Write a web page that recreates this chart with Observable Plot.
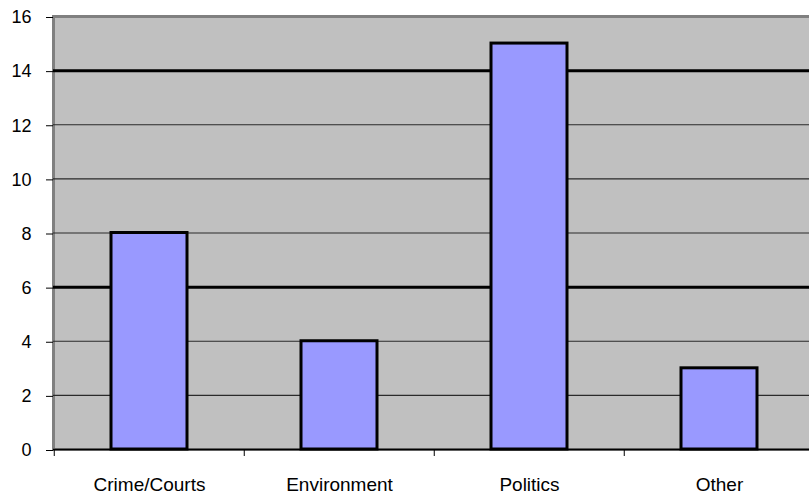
<!DOCTYPE html>
<html>
<head>
<meta charset="utf-8">
<script src="https://cdn.jsdelivr.net/npm/d3@7"></script>
<script src="https://cdn.jsdelivr.net/npm/@observablehq/plot@0.6"></script>
<style>
  html, body { margin: 0; padding: 0; background: #fff; overflow: hidden; }
  #chart svg { overflow: hidden; }
</style>
</head>
<body>
<div id="chart"></div>
<script>
const categories = ["Crime/Courts", "Environment", "Politics", "Other"];
const values = [8, 4, 15, 3];
const yTicks = [0, 2, 4, 6, 8, 10, 12, 14, 16];
const thickGrid = [6, 14];
const thinGrid = [2, 4, 8, 10, 12];

const data = categories.map((c, i) => ({category: c, value: values[i]}));

const W = 809, H = 494;
const mL = 53, mR = -6, mT = 16, mB = 45;
const step = (W - mR - mL) / categories.length;

const plot = Plot.plot({
  width: W,
  height: H,
  marginLeft: mL,
  marginRight: mR,
  marginTop: mT,
  marginBottom: mB,
  style: {fontFamily: "'Liberation Sans', Arial, sans-serif", background: "#fff", overflow: "hidden"},
  x: {domain: categories, paddingInner: 0.6, paddingOuter: 0.3, label: null},
  y: {domain: [0, 16], label: null},
  marks: [
    Plot.frame({fill: "#c0c0c0", stroke: "#808080", strokeWidth: 3}),
    Plot.ruleY(thinGrid, {stroke: "#2a2a2a", strokeWidth: 1.2}),
    Plot.ruleY(thickGrid, {stroke: "#000", strokeWidth: 3}),
    Plot.barY(data, {x: "category", y: "value", fill: "#9999ff", stroke: "#000", strokeWidth: 3}),
    Plot.ruleY([0], {stroke: "#000", strokeWidth: 1.5}),
    Plot.ruleX(categories, {x: d => d, y1: 0, y2: 0, insetBottom: -7, dx: -step / 2, stroke: "#000", strokeWidth: 1}),
    Plot.axisY({ticks: yTicks, tickSize: 7, tickPadding: 15, fontSize: 18, dy: 1, stroke: "#000", label: null, color: "#000"}),
    Plot.axisX({tickSize: 0, tickPadding: 28, fontSize: 19, label: null, color: "#000"})
  ]
});
document.getElementById("chart").appendChild(plot);
</script>
</body>
</html>
